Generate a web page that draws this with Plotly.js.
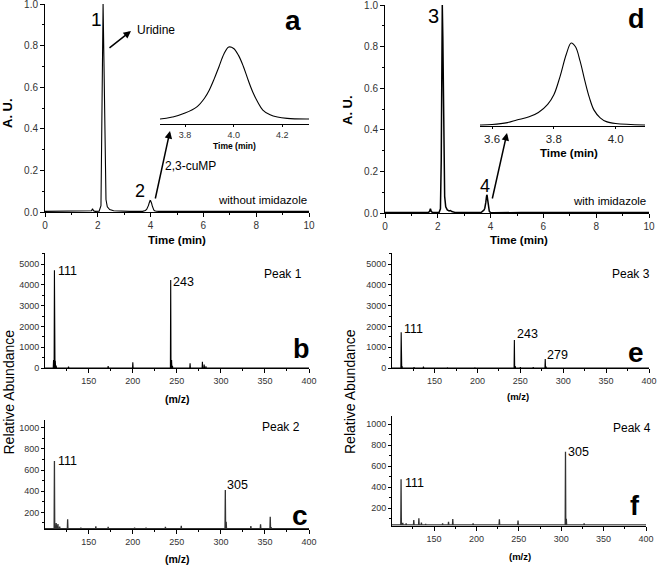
<!DOCTYPE html>
<html><head><meta charset="utf-8">
<script src="https://cdn.plot.ly/plotly-3.0.1.min.js"></script>
<style>html,body{margin:0;padding:0;background:#fff}#chart{width:658px;height:566px}</style>
</head><body><div id="chart"></div>
<script>
// ---- Chromatogram data (time in min, absorbance in A.U.) ----
const TIME_A = [0, 1.0, 1.7, 1.76, 1.8, 1.84, 1.9, 2.05, 2.12, 2.16, 2.2, 2.23, 2.27, 2.31, 2.36, 2.45, 2.6, 2.8, 3.2, 3.697, 3.75, 3.8, 3.85, 3.88, 3.9, 3.92, 3.94, 3.96, 3.98, 4.0, 4.02, 4.04, 4.06, 4.08, 4.1, 4.12, 4.15, 4.18, 4.22, 4.31, 5, 7, 10];
const AU_A   = [0.003, 0.003, 0.003, 0.006, 0.015, 0.006, 0.003, 0.004, 0.03, 0.4, 1.0, 0.75, 0.25, 0.06, 0.025, 0.012, 0.006, 0.004, 0.003, 0.003, 0.0045, 0.0073, 0.012, 0.018, 0.024, 0.032, 0.041, 0.050, 0.055, 0.054, 0.049, 0.041, 0.031, 0.022, 0.015, 0.0095, 0.006, 0.0044, 0.0035, 0.003, 0.003, 0.003, 0.003];
const TIME_D = [0, 1.0, 1.64, 1.69, 1.72, 1.75, 1.8, 2.05, 2.1, 2.13, 2.15, 2.17, 2.19, 2.22, 2.26, 2.3, 2.36, 2.43, 2.48, 2.53, 2.65, 3.0, 3.561, 3.6, 3.65, 3.68, 3.72, 3.75, 3.78, 3.80, 3.82, 3.84, 3.856, 3.87, 3.885, 3.90, 3.915, 3.93, 3.95, 3.97, 4.0, 4.095, 4.9, 4.97, 5.0, 5.05, 5.15, 7, 10];
const AU_D   = [0.002, 0.002, 0.002, 0.008, 0.02, 0.008, 0.002, 0.003, 0.02, 0.25, 0.85, 1.0, 0.85, 0.3, 0.08, 0.03, 0.015, 0.01, 0.012, 0.007, 0.003, 0.002, 0.0015, 0.002, 0.004, 0.0067, 0.010, 0.0145, 0.023, 0.033, 0.052, 0.075, 0.087, 0.083, 0.068, 0.048, 0.030, 0.017, 0.009, 0.005, 0.003, 0.0015, 0.002, 0.004, 0.005, 0.003, 0.002, 0.002, 0.002];

// ---- Mass spectra (m/z, relative abundance) ----
const MZ_B  = [110, 111, 112, 113, 127, 172, 200, 243, 244, 245, 265, 279, 281, 283];
const INT_B = [380, 4700, 350, 120, 60, 90, 270, 4230, 380, 100, 230, 300, 160, 80];
const BASE_B = 0;
const MZ_C  = [111, 113, 114, 115, 117, 126, 141, 158, 172, 202, 215, 237, 255, 305, 306, 334, 345, 356, 357];
const INT_C = [685, 100, 75, 90, 65, 134, 55, 68, 62, 55, 55, 62, 72, 411, 110, 70, 88, 159, 60];
const BASE_C = 45;
const MZ_E  = [111, 112, 126, 137, 165, 197, 243, 244, 250, 265, 279, 280];
const INT_E = [1716, 90, 40, 60, 30, 30, 1346, 90, 40, 40, 430, 70];
const BASE_E = 0;
const MZ_F  = [111, 113, 117, 126, 132, 135, 140, 160, 167, 172, 196, 227, 249, 305, 306, 327];
const INT_F = [476, 62, 55, 88, 105, 63, 52, 55, 70, 98, 57, 95, 82, 739, 100, 57];
const BASE_F = 42;

const W = 658, H = 566;
const FONT = 'Arial, "Liberation Sans", sans-serif';
const px = v => v / W;
const py = v => 1 - v / H;

function sticks(mz, inten, base) {
  const x = [100.3], y = [base];
  for (let i = 0; i < mz.length; i++) {
    x.push(mz[i] - 0.35, mz[i], mz[i] + 0.35);
    y.push(base, inten[i], base);
  }
  x.push(400); y.push(base);
  return {x, y};
}

const line = {color: '#000', width: 1.1};
const traces = [];
traces.push({x: TIME_A, y: AU_A, xaxis: 'x', yaxis: 'y', type: 'scatter', mode: 'lines', line, cliponaxis: false});
traces.push({x: TIME_A, y: AU_A, xaxis: 'x2', yaxis: 'y2', type: 'scatter', mode: 'lines', line: {color: '#000', width: 1.1, shape: 'spline', smoothing: 1}});
traces.push({x: TIME_D, y: AU_D, xaxis: 'x3', yaxis: 'y3', type: 'scatter', mode: 'lines', line: {color: '#000', width: 1.5}, cliponaxis: false});
traces.push({x: TIME_D, y: AU_D, xaxis: 'x4', yaxis: 'y4', type: 'scatter', mode: 'lines', line: {color: '#000', width: 1.1, shape: 'spline', smoothing: 1}});
const sb = sticks(MZ_B, INT_B, BASE_B), sc = sticks(MZ_C, INT_C, BASE_C), se = sticks(MZ_E, INT_E, BASE_E), sf = sticks(MZ_F, INT_F, BASE_F);
traces.push({x: sb.x, y: sb.y, xaxis: 'x5', yaxis: 'y5', type: 'scatter', mode: 'lines', line});
traces.push({x: sc.x, y: sc.y, xaxis: 'x6', yaxis: 'y6', type: 'scatter', mode: 'lines', line: {color: '#333', width: 1.3}});
traces.push({x: se.x, y: se.y, xaxis: 'x7', yaxis: 'y7', type: 'scatter', mode: 'lines', line});
traces.push({x: sf.x, y: sf.y, xaxis: 'x8', yaxis: 'y8', type: 'scatter', mode: 'lines', line: {color: '#333', width: 1.3}});

function axis(dom, range, anchor, o) {
  return Object.assign({
    domain: dom, range, anchor,
    showline: true, linecolor: '#000', linewidth: 1,
    ticks: 'outside', ticklen: 4, tickwidth: 1, tickcolor: '#000',
    showgrid: false, zeroline: false, fixedrange: true,
    ticklabeloverflow: 'allow',
    tickfont: {family: FONT, size: 10, color: '#333'},
    minor: {ticks: 'outside', ticklen: 2, tickcolor: '#000', showgrid: false}
  }, o);
}
const msTick = {family: FONT, size: 9, color: '#333'};

const layout = {
  width: W, height: H,
  margin: {l: 0, r: 0, t: 0, b: 0},
  paper_bgcolor: '#fff', plot_bgcolor: 'rgba(0,0,0,0)',
  showlegend: false,
  font: {family: FONT},
  // panel a
  xaxis: axis([px(45), px(309)], [0, 10], 'y', {dtick: 2, minor: {ticks: 'outside', ticklen: 2, dtick: 1, tickcolor: '#000'}}),
  yaxis: axis([py(212), py(4)], [0, 1.0005], 'x', {dtick: 0.2, tickformat: '.1f', minor: {ticks: 'outside', ticklen: 2, dtick: 0.1, tickcolor: '#000'}}),
  // inset a
  xaxis2: axis([px(160), px(309)], [3.697, 4.31], 'y2', {dtick: 0.2, tickformat: '.1f', ticklen: 2, tickfont: {family: FONT, size: 9, color: '#333'}, minor: {ticks: ''}}),
  yaxis2: {domain: [py(124), py(40)], range: [-0.0006, 0.0601], anchor: 'x2', visible: false, fixedrange: true},
  // panel d
  xaxis3: axis([px(385), px(649)], [0, 10], 'y3', {dtick: 2, minor: {ticks: 'outside', ticklen: 2, dtick: 1, tickcolor: '#000'}}),
  yaxis3: axis([py(213), py(5)], [0, 1.0005], 'x3', {dtick: 0.2, tickformat: '.1f', minor: {ticks: 'outside', ticklen: 2, dtick: 0.1, tickcolor: '#000'}}),
  // inset d
  xaxis4: axis([px(480), px(645)], [3.561, 4.095], 'y4', {dtick: 0.2, tickformat: '.1f', ticklen: 2, tickfont: {family: FONT, size: 11.5, color: '#222'}, minor: {ticks: ''}}),
  yaxis4: {domain: [py(126), py(38)], range: [0.00044, 0.0922], anchor: 'x4', visible: false, fixedrange: true},
  // panel b
  xaxis5: axis([px(45), px(309)], [100.3, 400], 'y5', {dtick: 50, tickfont: msTick, minor: {ticks: 'outside', ticklen: 2, dtick: 25, tickcolor: '#000'}}),
  yaxis5: axis([py(368), py(253)], [0, 5530], 'x5', {dtick: 1000, ticklen: 3, tickfont: msTick, minor: {ticks: 'outside', ticklen: 2, dtick: 500, tickcolor: '#000'}}),
  // panel c
  xaxis6: axis([px(45), px(309)], [100.3, 400], 'y6', {dtick: 50, tickfont: msTick, minor: {ticks: 'outside', ticklen: 2, dtick: 25, tickcolor: '#000'}}),
  yaxis6: axis([py(529.3), py(420)], [40, 1073], 'x6', {dtick: 200, tick0: 0, ticklen: 3, tickfont: msTick, minor: {ticks: 'outside', ticklen: 2, dtick: 100, tickcolor: '#000'}}),
  // panel e
  xaxis7: axis([px(392), px(649)], [100.3, 400], 'y7', {dtick: 50, tickfont: msTick, minor: {ticks: 'outside', ticklen: 2, dtick: 25, tickcolor: '#000'}}),
  yaxis7: axis([py(368), py(253)], [0, 5530], 'x7', {dtick: 1000, ticklen: 3, tickfont: msTick, minor: {ticks: 'outside', ticklen: 2, dtick: 500, tickcolor: '#000'}}),
  // panel f
  xaxis8: axis([px(392), px(646)], [100.3, 400], 'y8', {dtick: 50, tickfont: msTick, minor: {ticks: 'outside', ticklen: 2, dtick: 25, tickcolor: '#000'}}),
  yaxis8: axis([py(525.7), py(416)], [34, 1079], 'x8', {dtick: 200, tick0: 0, ticklen: 3, tickfont: msTick, minor: {ticks: 'outside', ticklen: 2, dtick: 100, tickcolor: '#000'}}),
  annotations: [],
  shapes: []
};

function txt(text, x, y, size, o) {
  layout.annotations.push(Object.assign({
    text, x: px(x), y: py(y), xref: 'paper', yref: 'paper',
    xanchor: 'center', yanchor: 'middle', showarrow: false,
    font: {family: FONT, size, color: '#000'}
  }, o || {}));
}
function arrow(x0, y0, x1, y1) {
  layout.annotations.push({
    text: '', x: px(x1), y: py(y1), xref: 'paper', yref: 'paper',
    ax: x0 - x1, ay: y0 - y1, showarrow: true,
    arrowhead: 2, arrowsize: 1, arrowwidth: 1.5, arrowcolor: '#000', standoff: 0
  });
}
const B = s => '<b>' + s + '</b>';

// axis titles
txt(B('Time (min)'), 177, 240, 11.5);
txt(B('Time (min)'), 519, 240, 11.5);
txt(B('A. U.'), 8, 113, 13, {textangle: -90});
txt(B('A. U.'), 347, 110, 13, {textangle: -90});
txt('Relative Abundance', 8.5, 392, 14, {textangle: -90});
txt('Relative Abundance', 350, 392, 14, {textangle: -90});
txt(B('(m/z)'), 177, 399, 10.5);
txt(B('(m/z)'), 177, 559, 10.5);
txt(B('(m/z)'), 518, 396, 9.5);
txt(B('(m/z)'), 520, 556, 9.5);
txt(B('Time (min)'), 234, 146, 8.5);
txt(B('Time (min)'), 569, 153, 11.5);

// panel a labels
txt('1', 96, 19, 19);
txt('Uridine', 156, 30, 12);
arrow(108, 49, 131, 31);
txt(B('a'), 293, 20, 28);
txt('2', 140, 191, 18);
txt('2,3-cuMP', 190, 166, 12);
arrow(155, 200, 170, 131);
txt('without imidazole', 262, 200, 11.5);
// panel d labels
txt('3', 433, 16, 20);
txt(B('d'), 636, 19, 27);
txt('4', 485, 186, 18);
arrow(492, 200, 507, 133);
txt('with imidazole', 609, 201, 11.5);
// panel b
txt('111', 67.5, 270.5, 12.5);
txt('243', 183.5, 282, 12.5);
txt('Peak 1', 282.5, 274, 12);
txt(B('b'), 301, 349, 27);
// panel c
txt('111', 67, 461, 12.5);
txt('305', 237.5, 485, 12.5);
txt('Peak 2', 280.5, 427, 12);
txt(B('c'), 300, 515, 28);
// panel e
txt('111', 413.5, 328.5, 12.5);
txt('243', 527, 333.5, 12.5);
txt('279', 557.5, 355, 12.5);
txt('Peak 3', 631, 273.5, 12);
txt(B('e'), 636, 352.5, 28);
// panel f
txt('111', 414.5, 482.5, 12.5);
txt('305', 578, 452, 12.5);
txt('Peak 4', 632, 427.5, 12);
txt(B('f'), 635, 506, 27);

Plotly.newPlot('chart', traces, layout, {staticPlot: true, displayModeBar: false});
</script>
</body></html>
